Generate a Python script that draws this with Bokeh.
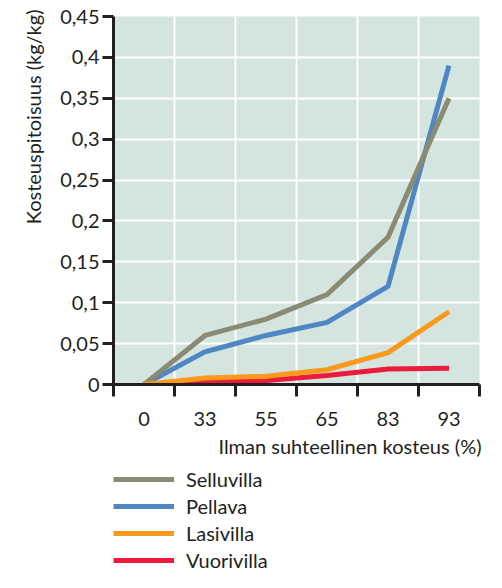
from bokeh.plotting import figure
from bokeh.layouts import column
from bokeh.embed import file_html
from bokeh.resources import INLINE
from bokeh.models import (FixedTicker, CustomJSTickFormatter, Legend,
                          LegendItem, Range1d, Title)

# ---- data ----
categories = ["0", "33", "55", "65", "83", "93"]
selluvilla = [0.0, 0.06, 0.08, 0.11, 0.18, 0.35]
pellava = [0.0, 0.04, 0.06, 0.076, 0.12, 0.39]
lasivilla = [0.0, 0.008, 0.01, 0.018, 0.039, 0.089]
vuorivilla = [0.0, 0.003, 0.005, 0.011, 0.019, 0.02]
y_ticks = [0, 0.05, 0.1, 0.15, 0.2, 0.25, 0.3, 0.35, 0.4, 0.45]
series_names = ["Selluvilla", "Pellava", "Lasivilla", "Vuorivilla"]
x_title = "Ilman suhteellinen kosteus (%)"
y_title = "Kosteuspitoisuus (kg/kg)"

FONT = "Lato"
FS = "20px"
TXT = "#231f20"
colors = {"Selluvilla": "#8b8a73", "Pellava": "#4f87c4",
          "Lasivilla": "#f99a1c", "Vuorivilla": "#ec1b3b"}

xs = [i + 0.5 for i in range(len(categories))]
data = {"Selluvilla": selluvilla, "Pellava": pellava,
        "Lasivilla": lasivilla, "Vuorivilla": vuorivilla}

p = figure(width=486, height=460, output_backend="svg", toolbar_location=None,
           x_range=Range1d(0, len(categories)), y_range=Range1d(0, 0.45),
           min_border_left=111, min_border_right=7, min_border_top=16,
           min_border_bottom=75)
p.background_fill_color = "#d4e4de"
p.border_fill_color = "white"
p.outline_line_color = None

# grids
p.xgrid.ticker = FixedTicker(ticks=list(range(1, len(categories))))
p.ygrid.ticker = FixedTicker(ticks=y_ticks)
for g in (p.xgrid, p.ygrid):
    g.grid_line_color = "white"
    g.grid_line_width = 2

# y axis
ya = p.yaxis[0]
ya.ticker = FixedTicker(ticks=y_ticks)
ya.formatter = CustomJSTickFormatter(code="""
  let s = tick.toFixed(2).replace(/0+$/, '').replace(/\\.$/, '');
  return s.replace('.', ',');
""")
ya.axis_line_width = 3
ya.axis_line_color = TXT
ya.major_tick_out = 11
ya.major_tick_in = 0
ya.major_tick_line_width = 3
ya.major_tick_line_color = TXT
ya.minor_tick_line_color = None
ya.major_label_standoff = 3
ya.major_label_text_font = FONT
ya.major_label_text_font_size = FS
ya.major_label_text_color = TXT

# x axis
xa = p.xaxis[0]
xa.ticker = FixedTicker(ticks=xs, minor_ticks=list(range(len(categories) + 1)))
xa.major_label_overrides = {x: c for x, c in zip(xs, categories)}
xa.axis_line_width = 3
xa.axis_line_color = TXT
xa.major_tick_out = 0
xa.major_tick_in = 0
xa.major_tick_line_color = None
xa.minor_tick_out = 12
xa.minor_tick_in = 0
xa.minor_tick_line_width = 3
xa.minor_tick_line_color = TXT
xa.major_label_standoff = 15
xa.major_label_text_font = FONT
xa.major_label_text_font_size = FS
xa.major_label_text_color = TXT

# lines
for name in ["Vuorivilla", "Pellava", "Selluvilla", "Lasivilla"]:
    p.line(xs, data[name], line_color=colors[name], line_width=5, line_join="miter")

# axis titles
yt = Title(text=y_title, align="right", offset=-7,
           text_font=FONT, text_font_size=FS, text_color=TXT,
           text_font_style="normal")
try:
    yt.standoff = 26
except AttributeError:
    pass
p.add_layout(yt, "left")

xt = Title(text=x_title, align="right", offset=-2,
           text_font=FONT, text_font_size=FS, text_color=TXT,
           text_font_style="normal")
try:
    xt.standoff = 6
except AttributeError:
    pass
p.add_layout(xt, "below")

# legend panel below the chart (series lines fall outside its range)
pl = figure(width=486, height=112, output_backend="svg", toolbar_location=None,
            x_range=Range1d(0, len(categories)), y_range=Range1d(1, 2),
            x_axis_type=None, y_axis_type=None,
            min_border_left=113, min_border_top=7, min_border_right=0,
            min_border_bottom=0)
pl.outline_line_color = None
pl.background_fill_color = "white"
pl.border_fill_color = "white"
try:
    pl.grid.visible = False
except Exception:
    pass
legend_renderers = [pl.line(xs, data[n], line_color=colors[n], line_width=5)
                    for n in series_names]
legend = Legend(items=[LegendItem(label=n, renderers=[r])
                       for n, r in zip(series_names, legend_renderers)],
                location="top_left", orientation="vertical",
                glyph_width=61, glyph_height=24, label_height=24, spacing=3,
                label_standoff=12, padding=0, margin=0,
                label_text_font=FONT, label_text_font_size=FS,
                label_text_color=TXT, border_line_color=None,
                background_fill_alpha=0)
pl.add_layout(legend)

layout = column(p, pl, spacing=0)
open("out.html", "w").write(file_html(layout, INLINE))
